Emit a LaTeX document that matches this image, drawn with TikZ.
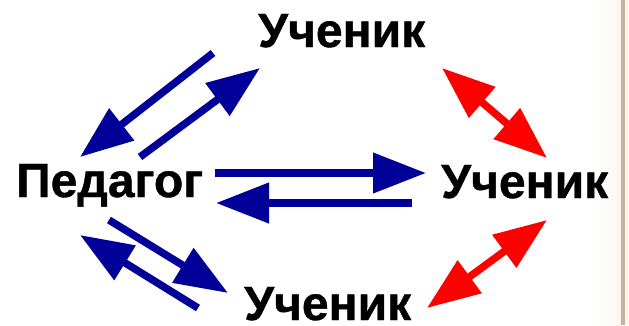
\documentclass[tikz,border=0pt]{standalone}
\usepackage{fontspec}
\setmainfont{Liberation Sans}
\newfontfamily\gruesa{Liberation Sans Bold}[FakeBold=0.8]
\usepackage{tikz}
\usetikzlibrary{arrows.meta}
\definecolor{azul}{RGB}{0,0,153}
\definecolor{rojo}{RGB}{255,0,0}
\definecolor{borde}{RGB}{200,180,154}
\definecolor{crema}{RGB}{251,246,238}
\tikzstyle{palabra} = [inner sep=0pt, anchor=base west, font=\fontsize{48}{48}\gruesa]
\tikzstyle{strelka} = [draw=azul, line width=7.5pt, -{Triangle[length=53pt,width=39pt]}]
\tikzstyle{strelkaroja} = [draw=rojo, line width=7.5pt, {Triangle[length=53pt,width=39pt]}-{Triangle[length=53pt,width=39pt]}]

\begin{document}
\begin{tikzpicture}[x=1pt,y=-1pt]
	\fill[white] (0,0) rectangle (629,325);
	\useasboundingbox (0,0) rectangle (629,325);
	\shade[left color=white, right color=crema] (596,0) rectangle (621,325);
	\fill[borde] (621,0) rectangle (624.5,325);
	\fill[crema] (624.5,0) rectangle (629,325);
	% palabras
	\node[palabra](pedagog) at (16,197) {Педагог};
	\node[palabra](uchenikA) at (258,47) {Ученик};
	\node[palabra](uchenikB) at (441,198) {Ученик};
	\node[palabra](uchenikC) at (244,320) {Ученик};
	% extremos de las flechas
	\coordinate (a1) at (213,53);  \coordinate (a2) at (80,157);
	\coordinate (b1) at (140,157); \coordinate (b2) at (260,68);
	\coordinate (c1) at (215,173); \coordinate (c2) at (426,173);
	\coordinate (d1) at (412,203); \coordinate (d2) at (216,203);
	\coordinate (e1) at (109,220); \coordinate (e2) at (228,293);
	\coordinate (f1) at (198,308); \coordinate (f2) at (80,235);
	\coordinate (g1) at (442,68);  \coordinate (g2) at (547,158);
	\coordinate (h1) at (547,220); \coordinate (h2) at (427,308);
	% flechas
	\draw[strelka] (a1) -- (a2);
	\draw[strelka] (b1) -- (b2);
	\draw[strelka] (c1) -- (c2);
	\draw[strelka] (d1) -- (d2);
	\draw[strelka] (e1) -- (e2);
	\draw[strelka] (f1) -- (f2);
	\draw[strelkaroja] (g1) -- (g2);
	\draw[strelkaroja] (h1) -- (h2);
\end{tikzpicture}
\end{document}
